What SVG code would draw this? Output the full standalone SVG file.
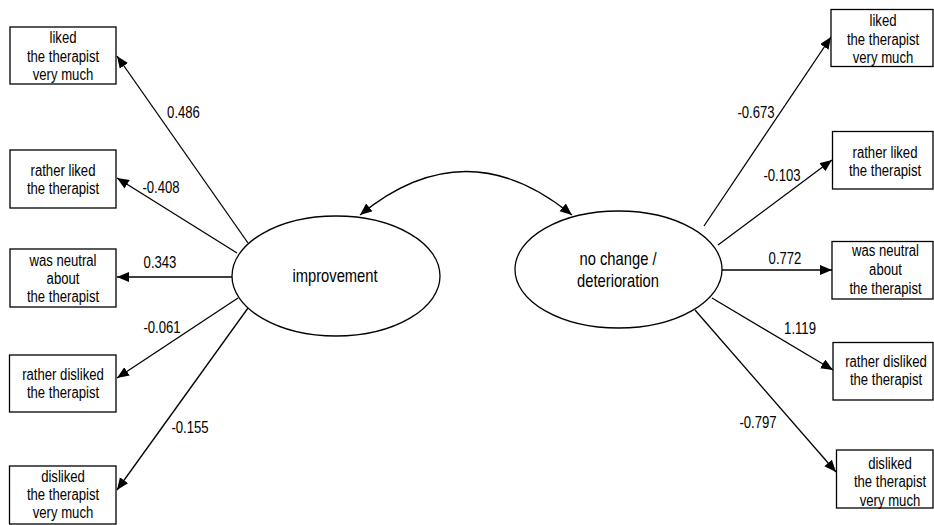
<svg xmlns="http://www.w3.org/2000/svg" width="934" height="525" viewBox="0 0 934 525">
<style>
.box{fill:#fff;stroke:#000;stroke-width:1.3}
.ell{fill:#fff;stroke:#000;stroke-width:1.3}
.t{font-family:"Liberation Sans",Arial,sans-serif;font-size:16px;fill:#000;text-anchor:middle}
.tl{font-family:"Liberation Sans",Arial,sans-serif;font-size:18px;fill:#000;text-anchor:middle}
.c{fill:none;stroke:#000;stroke-width:1.3}
</style>
<defs>
<marker id="ah" markerUnits="userSpaceOnUse" markerWidth="13" markerHeight="11" refX="12" refY="5" orient="auto-start-reverse" viewBox="0 0 13 11">
<path d="M0,0 L12,5 L0,10 z" fill="#000"/>
</marker>
</defs>
<g id="connectors">
<line class="c" x1="248" y1="243" x2="117" y2="56" marker-end="url(#ah)"/>
<line class="c" x1="237" y1="253" x2="117" y2="178" marker-end="url(#ah)"/>
<line class="c" x1="232" y1="277" x2="117" y2="277" marker-end="url(#ah)"/>
<line class="c" x1="238" y1="298" x2="117" y2="378" marker-end="url(#ah)"/>
<line class="c" x1="248" y1="308" x2="117" y2="490" marker-end="url(#ah)"/>
<line class="c" x1="704" y1="226" x2="831" y2="37" marker-end="url(#ah)"/>
<line class="c" x1="718" y1="245" x2="832" y2="160" marker-end="url(#ah)"/>
<line class="c" x1="722" y1="270" x2="832" y2="270" marker-end="url(#ah)"/>
<line class="c" x1="712" y1="298" x2="833" y2="370" marker-end="url(#ah)"/>
<line class="c" x1="695" y1="310" x2="836" y2="472" marker-end="url(#ah)"/>
<path class="c" d="M360,215 Q466,128 572,215" marker-start="url(#ah)" marker-end="url(#ah)"/>
<text class="t" transform="translate(183.5 0) scale(0.82 1)" y="118">0.486</text>
<text class="t" transform="translate(161 0) scale(0.82 1)" y="193">-0.408</text>
<text class="t" transform="translate(160 0) scale(0.82 1)" y="268">0.343</text>
<text class="t" transform="translate(162 0) scale(0.82 1)" y="333">-0.061</text>
<text class="t" transform="translate(190 0) scale(0.82 1)" y="433">-0.155</text>
<text class="t" transform="translate(756 0) scale(0.82 1)" y="118">-0.673</text>
<text class="t" transform="translate(782 0) scale(0.82 1)" y="181.5">-0.103</text>
<text class="t" transform="translate(785 0) scale(0.82 1)" y="264.5">0.772</text>
<text class="t" transform="translate(800 0) scale(0.82 1)" y="334">1.119</text>
<text class="t" transform="translate(758 0) scale(0.82 1)" y="428.5">-0.797</text>
</g>
<g id="improvement">
<ellipse class="ell" cx="336" cy="276" rx="104" ry="60"/>
<text class="tl" transform="translate(335 0) scale(0.82 1)" y="282">improvement</text>
</g>
<g id="nochange">
<ellipse class="ell" cx="618.5" cy="269.5" rx="103.5" ry="58.5"/>
<text class="tl" transform="translate(618 0) scale(0.82 1)" y="265">no change /</text>
<text class="tl" transform="translate(618 0) scale(0.82 1)" y="287">deterioration</text>
</g>
<g id="L1">
<rect class="box" x="10" y="27" width="106" height="57"/>
<text class="t" transform="translate(63 0) scale(0.82 1)" y="43.5">liked</text>
<text class="t" transform="translate(63 0) scale(0.82 1)" y="62">the therapist</text>
<text class="t" transform="translate(63 0) scale(0.82 1)" y="80">very much</text>
</g>
<g id="L2">
<rect class="box" x="10" y="150" width="106" height="58"/>
<text class="t" transform="translate(63 0) scale(0.82 1)" y="176.5">rather liked</text>
<text class="t" transform="translate(63 0) scale(0.82 1)" y="194.5">the therapist</text>
</g>
<g id="L3">
<rect class="box" x="10" y="249" width="106" height="58"/>
<text class="t" transform="translate(63 0) scale(0.82 1)" y="266">was neutral</text>
<text class="t" transform="translate(63 0) scale(0.82 1)" y="284">about</text>
<text class="t" transform="translate(63 0) scale(0.82 1)" y="302">the therapist</text>
</g>
<g id="L4">
<rect class="box" x="9.5" y="355" width="106.5" height="57"/>
<text class="t" transform="translate(63 0) scale(0.82 1)" y="380.5">rather disliked</text>
<text class="t" transform="translate(63 0) scale(0.82 1)" y="398">the therapist</text>
</g>
<g id="L5">
<rect class="box" x="9.5" y="466" width="106.5" height="58"/>
<text class="t" transform="translate(63 0) scale(0.82 1)" y="482.5">disliked</text>
<text class="t" transform="translate(63 0) scale(0.82 1)" y="500">the therapist</text>
<text class="t" transform="translate(63 0) scale(0.82 1)" y="518">very much</text>
</g>
<g id="R1">
<rect class="box" x="831" y="9.5" width="102" height="57"/>
<text class="t" transform="translate(883 0) scale(0.82 1)" y="26.5">liked</text>
<text class="t" transform="translate(883 0) scale(0.82 1)" y="45">the therapist</text>
<text class="t" transform="translate(883 0) scale(0.82 1)" y="63">very much</text>
</g>
<g id="R2">
<rect class="box" x="832.5" y="131.5" width="100.5" height="57.5"/>
<text class="t" transform="translate(885 0) scale(0.82 1)" y="158.5">rather liked</text>
<text class="t" transform="translate(885 0) scale(0.82 1)" y="176.5">the therapist</text>
</g>
<g id="R3">
<rect class="box" x="832" y="241.5" width="101" height="57.5"/>
<text class="t" transform="translate(885.5 0) scale(0.82 1)" y="256">was neutral</text>
<text class="t" transform="translate(885.5 0) scale(0.82 1)" y="275">about</text>
<text class="t" transform="translate(885.5 0) scale(0.82 1)" y="294">the therapist</text>
</g>
<g id="R4">
<rect class="box" x="833" y="342.5" width="100" height="57.5"/>
<text class="t" transform="translate(886 0) scale(0.82 1)" y="367">rather disliked</text>
<text class="t" transform="translate(886 0) scale(0.82 1)" y="385">the therapist</text>
</g>
<g id="R5">
<rect class="box" x="836.5" y="450" width="96.5" height="58"/>
<text class="t" transform="translate(890 0) scale(0.82 1)" y="469">disliked</text>
<text class="t" transform="translate(890 0) scale(0.82 1)" y="487.5">the therapist</text>
<text class="t" transform="translate(890 0) scale(0.82 1)" y="506">very much</text>
</g>
</svg>
